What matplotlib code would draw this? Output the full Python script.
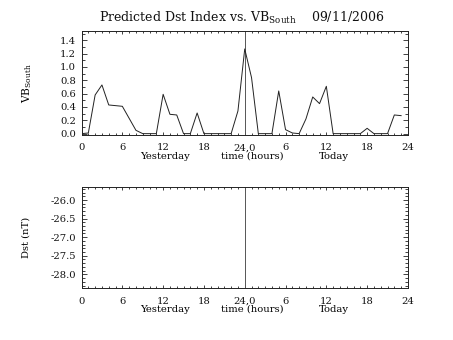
import matplotlib
matplotlib.use("Agg")
import matplotlib.pyplot as plt
from matplotlib.ticker import MultipleLocator, FixedLocator, FixedFormatter, FormatStrFormatter

plt.rcParams['font.family'] = ['DejaVu Serif']
plt.rcParams['mathtext.fontset'] = 'dejavuserif'

# Hourly VB_south values: yesterday (hours 0-23) then today (hours 24-47)
vb_yesterday = [0.0, 0.01, 0.58, 0.73, 0.43, 0.42, 0.41, 0.23, 0.05, 0.0, 0.0, 0.0,
                0.59, 0.29, 0.28, 0.0, 0.0, 0.31, 0.0, 0.0, 0.0, 0.0, 0.0, 0.34]
vb_today = [1.27, 0.84, 0.0, 0.0, 0.0, 0.64, 0.06, 0.01, 0.0, 0.22, 0.55, 0.45,
            0.71, 0.0, 0.0, 0.0, 0.0, 0.0, 0.08, 0.0, 0.0, 0.0, 0.28, 0.27]
hours = list(range(48))

x_ticks = [0, 6, 12, 18, 24, 30, 36, 42, 48]
x_tick_labels = ['0', '6', '12', '18', '24,0', '6', '12', '18', '24']
vb_ticks = [0.0, 0.2, 0.4, 0.6, 0.8, 1.0, 1.2, 1.4]
dst_ticks = [-26.0, -26.5, -27.0, -27.5, -28.0]

title = 'Predicted Dst Index vs. VB$_{\\mathrm{South}}$    09/11/2006'

fig = plt.figure(figsize=(4.53, 3.40), dpi=100)
ax1 = fig.add_axes([0.180, 0.603, 0.7205, 0.306])
ax2 = fig.add_axes([0.180, 0.1515, 0.7205, 0.2985])

lc = '#222222'
fs = 7.2


def style(ax):
    ax.set_xlim(0, 48)
    ax.xaxis.set_major_locator(FixedLocator(x_ticks))
    ax.xaxis.set_major_formatter(FixedFormatter(x_tick_labels))
    ax.xaxis.set_minor_locator(MultipleLocator(1))
    for s in ax.spines.values():
        s.set_linewidth(0.7)
        s.set_color(lc)
    ax.tick_params(axis='both', which='both', direction='in', top=True, right=True,
                   width=0.6, color=lc, labelsize=fs, labelcolor='#111111')
    ax.tick_params(axis='x', which='major', length=2.4, pad=6)
    ax.tick_params(axis='x', which='minor', length=1.3)
    ax.tick_params(axis='y', which='major', length=3.8, pad=4)
    ax.tick_params(axis='y', which='minor', length=1.9)
    ax.axvline(24, color='#555555', lw=0.7)
    tr = ax.get_xaxis_transform()
    ax.text(12.3, -0.16, 'Yesterday', transform=tr, ha='center', va='top', fontsize=fs)
    ax.text(25.1, -0.16, 'time (hours)', transform=tr, ha='center', va='top', fontsize=fs)
    ax.text(37.1, -0.16, 'Today', transform=tr, ha='center', va='top', fontsize=fs)


style(ax1)
ax1.plot(hours, vb_yesterday + vb_today, color=lc, lw=0.7)
ax1.set_ylim(-0.02, 1.54)
ax1.yaxis.set_major_locator(FixedLocator(vb_ticks))
ax1.yaxis.set_major_formatter(FormatStrFormatter('%.1f'))
ax1.yaxis.set_minor_locator(MultipleLocator(0.1))
ax1.set_ylabel('VB$_{\\mathrm{South}}$', fontsize=fs + 0.5)
ax1.yaxis.set_label_coords(-0.145, 0.5)

style(ax2)
ax2.set_ylim(-28.38, -25.65)
ax2.yaxis.set_major_locator(FixedLocator(dst_ticks))
ax2.yaxis.set_major_formatter(FormatStrFormatter('%.1f'))
ax2.yaxis.set_minor_locator(MultipleLocator(0.1))
ax2.set_ylabel('Dst (nT)', fontsize=fs)
ax2.yaxis.set_label_coords(-0.155, 0.5)

fig.text(0.533, 0.947, title, ha='center', va='center', fontsize=9.0, color='#111111')

fig.savefig('out.png', dpi=100)
